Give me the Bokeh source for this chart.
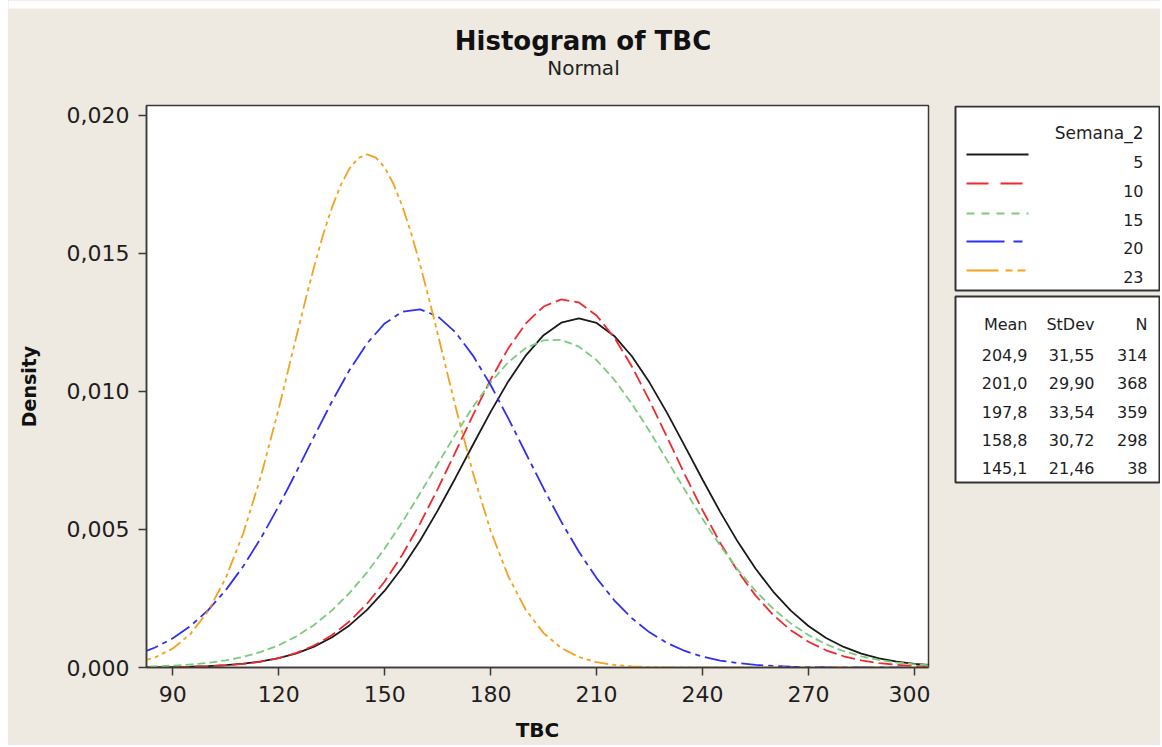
from bokeh.plotting import figure
from bokeh.models import Range1d, FixedTicker, Spacer
from bokeh.layouts import column, row
from bokeh.embed import file_html
from bokeh.resources import INLINE
from bokeh.core.properties import value

BG = "#EEEAE2"
FONT = "DejaVu Sans"
INK = "#1E1E1E"

# ---------------- data ----------------
tbc = [80, 85, 90, 95, 100, 105, 110, 115, 120, 125, 130, 135, 140, 145, 150,
       155, 160, 165, 170, 175, 180, 185, 190, 195, 200, 205, 210, 215, 220,
       225, 230, 235, 240, 245, 250, 255, 260, 265, 270, 275, 280, 285, 290,
       295, 300, 305]

dens_5 = [0.000005, 0.000009, 0.000017, 0.000029, 0.000050, 0.000084, 0.000137,
          0.000218, 0.000339, 0.000512, 0.000755, 0.001087, 0.001524, 0.002085,
          0.002782, 0.003620, 0.004593, 0.005684, 0.006858, 0.008070, 0.009261,
          0.010364, 0.011311, 0.012038, 0.012493, 0.012645, 0.012481, 0.012013,
          0.011277, 0.010322, 0.009215, 0.008022, 0.006810, 0.005638, 0.004552,
          0.003584, 0.002752, 0.002060, 0.001505, 0.001071, 0.000744, 0.000504,
          0.000333, 0.000214, 0.000135, 0.000082]

dens_10 = [0.000004, 0.000007, 0.000014, 0.000025, 0.000044, 0.000077, 0.000130,
           0.000213, 0.000340, 0.000528, 0.000796, 0.001168, 0.001665, 0.002310,
           0.003115, 0.004086, 0.005211, 0.006464, 0.007795, 0.009142, 0.010427,
           0.011563, 0.012470, 0.013077, 0.013336, 0.013224, 0.012752, 0.011958,
           0.010904, 0.009668, 0.008337, 0.006990, 0.005699, 0.004519, 0.003484,
           0.002612, 0.001904, 0.001350, 0.000931, 0.000624, 0.000407, 0.000258,
           0.000159, 0.000095, 0.000056, 0.000032]

dens_15 = [0.000025, 0.000042, 0.000068, 0.000109, 0.000170, 0.000259, 0.000387,
           0.000565, 0.000807, 0.001128, 0.001542, 0.002061, 0.002695, 0.003445,
           0.004308, 0.005269, 0.006303, 0.007374, 0.008437, 0.009441, 0.010332,
           0.011060, 0.011578, 0.011854, 0.011869, 0.011624, 0.011134, 0.010430,
           0.009555, 0.008562, 0.007503, 0.006431, 0.005390, 0.004419, 0.003543,
           0.002778, 0.002131, 0.001598, 0.001173, 0.000841, 0.000590, 0.000405,
           0.000272, 0.000179, 0.000115, 0.000072]

dens_20 = [0.000484, 0.000725, 0.001058, 0.001503, 0.002079, 0.002802, 0.003677,
           0.004699, 0.005849, 0.007089, 0.008368, 0.009619, 0.010768, 0.011740,
           0.012464, 0.012887, 0.012976, 0.012724, 0.012151, 0.011300, 0.010234,
           0.009027, 0.007753, 0.006486, 0.005283, 0.004191, 0.003238, 0.002436,
           0.001785, 0.001274, 0.000885, 0.000599, 0.000395, 0.000253, 0.000158,
           0.000096, 0.000057, 0.000033, 0.000019, 0.000010, 0.000005, 0.000003,
           0.000001, 0.000001, 0.000000, 0.000000]

# the narrow curve is read at a finer step around its peak
tbc_23 = [80, 85, 90, 95, 100, 105, 110, 115, 120, 125, 127.5, 130, 132.5, 135,
          137.5, 140, 142.5, 145, 147.5, 150, 152.5, 155, 157.5, 160, 162.5, 165,
          170, 175, 180, 185, 190, 195, 200, 205, 210, 215, 220, 225, 230, 235,
          240, 245, 250, 260, 270, 280, 290, 305]
dens_23 = [0.000187, 0.000368, 0.000688, 0.001218, 0.002043, 0.003244, 0.004879,
           0.006952, 0.009380, 0.011989, 0.013281, 0.014513, 0.015647, 0.016641,
           0.017460, 0.018072, 0.018454, 0.018590, 0.018474, 0.018112, 0.017517,
           0.016713, 0.015732, 0.014608, 0.013382, 0.012094, 0.009483, 0.007043,
           0.004954, 0.003301, 0.002083, 0.001245, 0.000705, 0.000378, 0.000192,
           0.000092, 0.000042, 0.000018, 0.000007, 0.000003, 0.000001, 0.0, 0.0,
           0.0, 0.0, 0.0, 0.0, 0.0]

groups = ["5", "10", "15", "20", "23"]
means = ["204,9", "201,0", "197,8", "158,8", "145,1"]
stdevs = ["31,55", "29,90", "33,54", "30,72", "21,46"]
counts = ["314", "368", "359", "298", "38"]

x_ticks = [90, 120, 150, 180, 210, 240, 270, 300]
y_ticks = [0.0, 0.005, 0.010, 0.015, 0.020]
y_tick_labels = ["0,000", "0,005", "0,010", "0,015", "0,020"]

# ---------------- styles ----------------
xs = [tbc, tbc, tbc, tbc, tbc_23]
series = [dens_5, dens_10, dens_15, dens_20, dens_23]
colors = ["#1A1A1A", "#EE2A2F", "#7CCB7C", "#3030F0", "#F3A21E"]
plot_dash = ["solid", "14 5", "8 4", "22 5 5 5", "14 4 4 4 4 4"]
legend_dash = ["solid", "22 12", "8 7", "38 9 9 9", "32 7 7 5 8 5"]

W, H = 1160, 745
TOP = 88
MAIN_R = 930
FRAME_T, FRAME_B = 105, 667

# ---------------- title strip ----------------
t = figure(width=W - 8, height=TOP, x_range=Range1d(8, W), y_range=Range1d(TOP, 0),
           x_axis_location=None, y_axis_location=None, min_border=0,
           output_backend="svg", toolbar_location=None)
t.grid.visible = False
t.outline_line_color = None
t.background_fill_color = BG
t.border_fill_color = BG
t.quad(left=[8], right=[W], top=[0], bottom=[8], fill_color="white", line_color=None)
t.text(x=[582.5], y=[40], text=["Histogram of TBC"], text_font=value(FONT),
       text_font_style="bold", text_font_size="26px", text_align="center",
       text_baseline="alphabetic", text_color="#111111")
t.text(x=[583], y=[67], text=["Normal"], text_font=value(FONT),
       text_font_size="20px", text_align="center", text_baseline="alphabetic",
       text_color="#222222")

# ---------------- main plot ----------------
p = figure(width=MAIN_R - 8, height=H - TOP, x_range=Range1d(82.55, 304),
           y_range=Range1d(0, 0.02036), output_backend="svg",
           toolbar_location=None, min_border_left=138, min_border_right=2,
           min_border_top=FRAME_T - TOP, min_border_bottom=H - FRAME_B)
p.background_fill_color = "white"
p.border_fill_color = BG
p.outline_line_color = "#3A3A3A"
p.outline_line_width = 1.5
p.grid.visible = False

for xv, ys, c, d in zip(xs, series, colors, plot_dash):
    p.line(xv, ys, line_color=c, line_width=1.8, line_dash=d)

p.xaxis.ticker = FixedTicker(ticks=x_ticks)
p.yaxis.ticker = FixedTicker(ticks=y_ticks)
p.yaxis.major_label_overrides = {v: s for v, s in zip(y_ticks, y_tick_labels)}
p.xaxis.axis_label = "TBC"
p.yaxis.axis_label = "Density"
for ax in (p.xaxis, p.yaxis):
    ax.axis_line_color = "#3A3A3A"
    ax.axis_line_width = 1.5
    ax.major_tick_line_color = "#3A3A3A"
    ax.major_tick_line_width = 1.5
    ax.major_tick_out = 8
    ax.major_tick_in = 0
    ax.minor_tick_out = 0
    ax.minor_tick_in = 0
    ax.major_label_text_font = FONT
    ax.major_label_text_font_size = "22px"
    ax.major_label_text_color = INK
    ax.axis_label_text_font = FONT
    ax.axis_label_text_font_style = "bold"
    ax.axis_label_text_color = "#111111"
p.xaxis.major_label_standoff = 10
p.yaxis.major_label_standoff = 9
p.xaxis.axis_label_text_font_size = "20px"
p.yaxis.axis_label_text_font_size = "19px"
p.xaxis.axis_label_standoff = 13
p.yaxis.axis_label_standoff = 24

# ---------------- legend panel ----------------
# in a row, this panel's frame lines up with the main plot frame (y 105..667)
lg = figure(width=W - MAIN_R, height=H - TOP, x_range=Range1d(MAIN_R, W),
            y_range=Range1d(FRAME_B, FRAME_T), x_axis_location=None,
            y_axis_location=None, min_border=0, output_backend="svg",
            toolbar_location=None)
lg.grid.visible = False
lg.outline_line_color = None
lg.background_fill_color = BG
lg.border_fill_color = BG

box_left, box_right = 955, 1159
lg.quad(left=[box_left, box_left], right=[box_right, box_right], top=[106, 296],
        bottom=[290, 482], fill_color="white", line_color="#333333", line_width=2)

lg.text(x=[1143], y=[132], text=["Semana_2"], text_font=value(FONT),
        text_font_size="17px", text_align="right", text_baseline="alphabetic",
        text_color=INK)
key_y = [154, 183, 213, 241, 270]
lab_y = [161, 190, 219, 247, 276]
for ky, ly, g, c, d in zip(key_y, lab_y, groups, colors, legend_dash):
    lg.line([966, 1028], [ky, ky], line_color=c, line_width=2, line_dash=d)
    lg.text(x=[1143], y=[ly], text=[g], text_font=value(FONT), text_font_size="16px",
            text_align="right", text_baseline="alphabetic", text_color=INK)

hdr_y = 324
row_y = [354, 382, 411, 439, 467]
for cx, head, vals in ((1027, "Mean", means), (1094, "StDev", stdevs), (1147, "N", counts)):
    lg.text(x=[cx], y=[hdr_y], text=[head], text_font=value(FONT), text_font_size="16px",
            text_align="right", text_baseline="alphabetic", text_color=INK)
    lg.text(x=[cx] * 5, y=row_y, text=vals, text_font=value(FONT), text_font_size="16px",
            text_align="right", text_baseline="alphabetic", text_color=INK)

inner = column(t, row(p, lg, styles={"background-color": BG}),
               styles={"background-color": BG})
layout = row(Spacer(width=8, height=H), inner)
open("out.html", "w").write(file_html(layout, INLINE))
